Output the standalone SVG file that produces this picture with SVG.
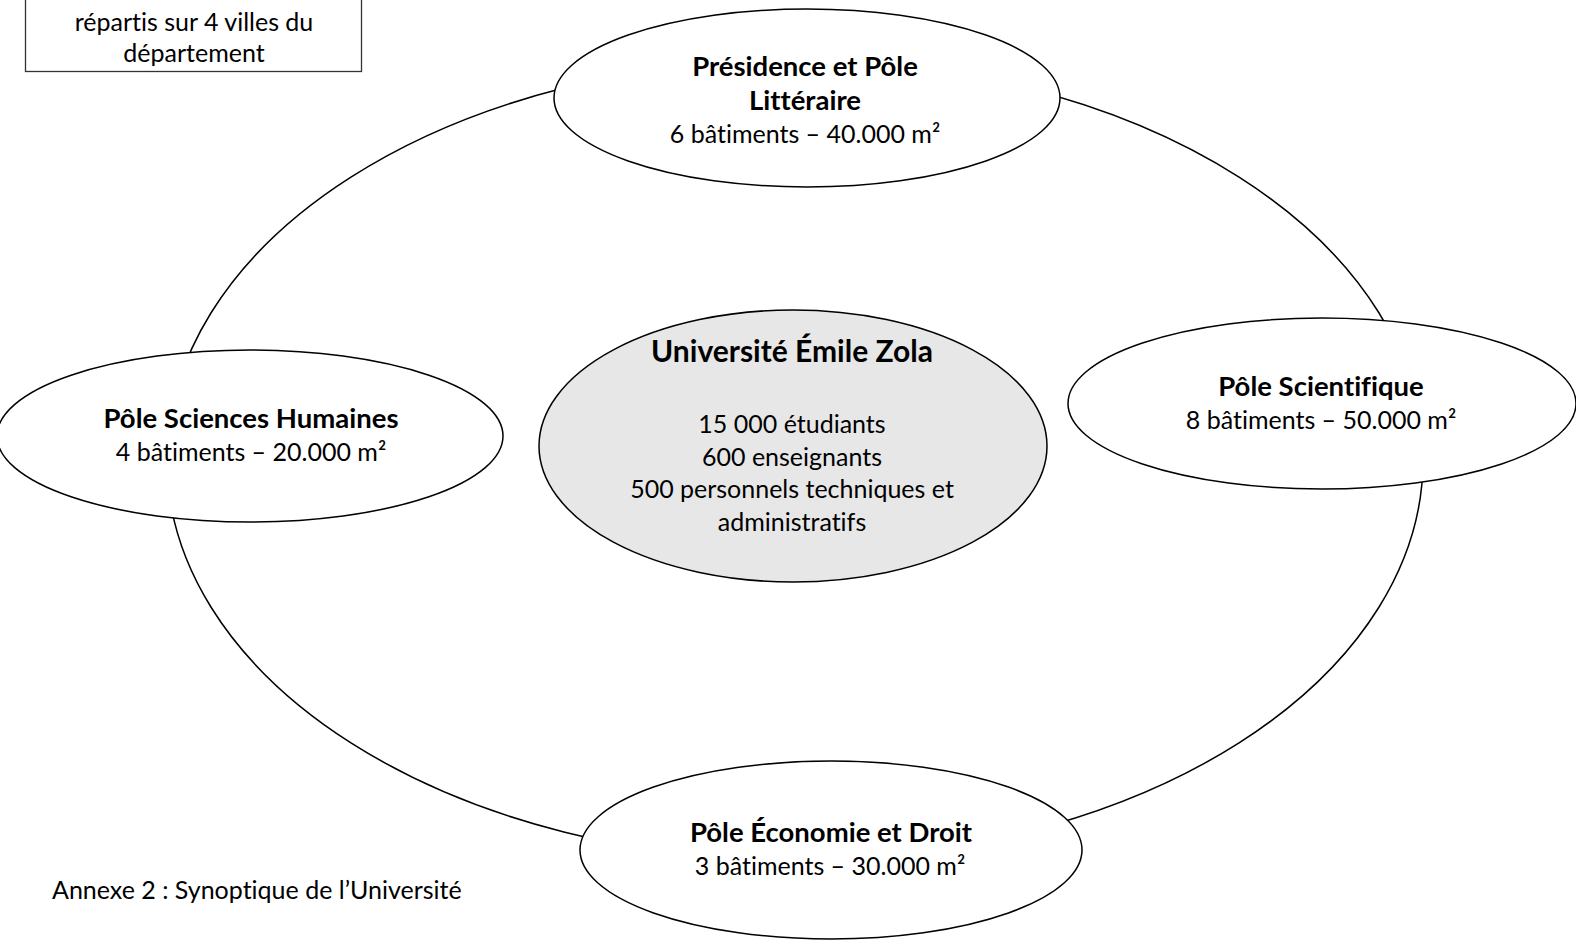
<svg xmlns="http://www.w3.org/2000/svg" width="1576" height="941" viewBox="0 0 1576 941">
<style>
.t{font-family:Lato,"Open Sans","Liberation Sans",sans-serif;font-size:25px;fill:#000;text-anchor:middle;font-variant-ligatures:none;font-feature-settings:"liga" 0}
.b{font-weight:bold;font-size:27.5px}
.n{fill:#fff;stroke:#000;stroke-width:1.5}
.c{fill:none;stroke:#000;stroke-width:1.5}
</style>
<rect width="1576" height="941" fill="#fff"/>
<g id="connectors">
<ellipse class="c" cx="795" cy="460" rx="628" ry="400"/>
</g>
<g id="note">
<rect x="25.5" y="-2" width="336" height="73.5" fill="#fff" stroke="#333" stroke-width="1.3"/>
<text class="t" x="194" y="31">répartis sur 4 villes du</text>
<text class="t" x="194" y="62">département</text>
</g>
<g id="presidence">
<ellipse class="n" cx="807" cy="98" rx="253" ry="89"/>
<text class="t b" x="805" y="75.5">Présidence et Pôle</text>
<text class="t b" x="805" y="109.5">Littéraire</text>
<text class="t" x="805" y="142.5">6 bâtiments – 40.000 m²</text>
</g>
<g id="universite">
<ellipse cx="793" cy="446" rx="254" ry="136" fill="#e7e7e7" stroke="#000" stroke-width="1.5"/>
<text class="t b" x="792" y="362" style="font-size:30px">Université Émile Zola</text>
<text class="t" x="792" y="433">15 000 étudiants</text>
<text class="t" x="792" y="465.5">600 enseignants</text>
<text class="t" x="792" y="498">500 personnels techniques et</text>
<text class="t" x="792" y="530.5">administratifs</text>
</g>
<g id="sciences-humaines">
<ellipse class="n" cx="250" cy="436" rx="253" ry="86"/>
<text class="t b" x="251" y="428">Pôle Sciences Humaines</text>
<text class="t" x="251" y="461">4 bâtiments – 20.000 m²</text>
</g>
<g id="scientifique">
<ellipse class="n" cx="1322" cy="403.5" rx="254" ry="85.5"/>
<text class="t b" x="1321" y="396">Pôle Scientifique</text>
<text class="t" x="1321" y="429">8 bâtiments – 50.000 m²</text>
</g>
<g id="economie">
<ellipse class="n" cx="831" cy="850" rx="251" ry="89"/>
<text class="t b" x="831" y="842">Pôle Économie et Droit</text>
<text class="t" x="830" y="875">3 bâtiments – 30.000 m²</text>
</g>
<text class="t" x="52" y="899" style="text-anchor:start">Annexe 2 : Synoptique de l’Université</text>
</svg>
